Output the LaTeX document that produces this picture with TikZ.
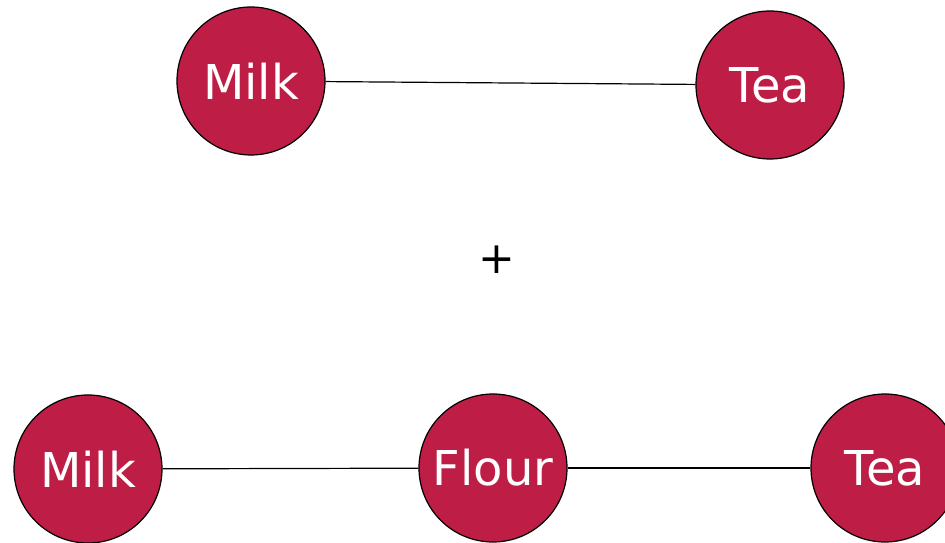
\documentclass[tikz,border=0pt]{standalone}
\usepackage{fontspec}
\setmainfont{DejaVu Sans}
\definecolor{crim}{HTML}{BE1E45}
\begin{document}
\begin{tikzpicture}[x=1pt,y=1pt,
  ball/.style={circle,draw=black,line width=1.2pt,fill=crim,minimum size=148pt,inner sep=0pt,text=white,font=\fontsize{48}{48}\selectfont},
  link/.style={draw=black,line width=1.2pt}]
\clip (0,0) rectangle (945,543);
\fill[white] (0,0) rectangle (945,543);
\node[ball] (m1) at (251,462) {Milk};
\node[ball] (t1) at (770,458) {Tea};
\node[font=\fontsize{44}{44}\selectfont] (plus) at (497,283) {+};
\node[ball] (m2) at (88,74) {Milk};
\node[ball] (f2) at (493,75) {Flour};
\node[ball] (t2) at (885,75) {Tea};
\draw[link] (m1) -- (t1);
\draw[link] (m2) -- (f2);
\draw[link] (f2) -- (t2);
\end{tikzpicture}
\end{document}
